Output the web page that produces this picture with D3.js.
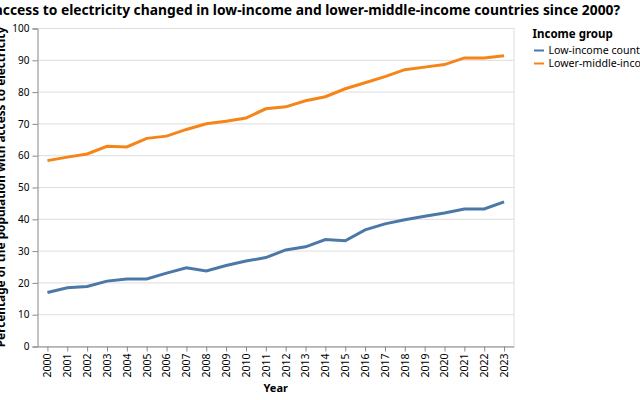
<!DOCTYPE html>
<html>
<head>
<meta charset="utf-8">
<script src="https://cdn.jsdelivr.net/npm/d3@7"></script>
<style>
  body { margin: 0; background: #fff; }
  svg { font-family: 'Noto Sans', sans-serif; }
</style>
</head>
<body>
<div id="chart"></div>
<script>
// data
var years = d3.range(2000, 2024);
var lowIncome = [16.8, 18.3, 18.7, 20.4, 21.1, 21.1, 22.9, 24.6, 23.6, 25.3, 26.7, 27.8,
                 30.2, 31.2, 33.5, 33.1, 36.5, 38.4, 39.7, 40.8, 41.8, 43.1, 43.1, 45.3];
var lowerMiddle = [58.3, 59.4, 60.4, 62.8, 62.6, 65.3, 66.0, 68.1, 69.9, 70.7, 71.7, 74.6,
                   75.2, 77.1, 78.4, 80.9, 82.8, 84.7, 86.9, 87.7, 88.5, 90.6, 90.6, 91.3];
var seriesNames = ['Low-income countries', 'Lower-middle-income countries'];
var seriesColors = ['#4c78a8', '#f58518'];
var yTicks = [0, 10, 20, 30, 40, 50, 60, 70, 80, 90, 100];

var W = 640, H = 400;
var plot = {x: 37.5, y: 28, width: 476.5, height: 318};
var font = "'Noto Sans', sans-serif";

var svg = d3.select('#chart').append('svg').attr('width', W).attr('height', H);

var x = d3.scalePoint().domain(years).range([plot.x, plot.x + plot.width]).padding(0.5);
var y = d3.scaleLinear().domain([0, 100]).range([plot.y + plot.height, plot.y]);

// grid
var g = svg.append('g');
g.selectAll('line.grid').data(yTicks).enter().append('line')
  .attr('x1', plot.x).attr('x2', plot.x + plot.width)
  .attr('y1', function (d) { return y(d) + 0.5; }).attr('y2', function (d) { return y(d) + 0.5; })
  .attr('stroke', '#ddd');
g.append('line')
  .attr('x1', plot.x + plot.width).attr('x2', plot.x + plot.width)
  .attr('y1', plot.y).attr('y2', plot.y + plot.height)
  .attr('stroke', '#ddd');

// y axis
var yAxis = svg.append('g').attr('transform', 'translate(' + plot.x + ',0.5)')
  .call(d3.axisLeft(y).tickValues(yTicks).tickSize(5).tickPadding(3));
yAxis.select('.domain').attr('stroke', '#888');
yAxis.selectAll('.tick line').attr('stroke', '#888');
yAxis.selectAll('.tick text').attr('font-size', 10).attr('fill', '#000').attr('font-family', font);

// x axis
var xAxis = svg.append('g').attr('transform', 'translate(0,' + (plot.y + plot.height + 0.5) + ')')
  .call(d3.axisBottom(x).tickSize(5).tickSizeOuter(0));
xAxis.select('.domain').attr('stroke', '#888');
xAxis.selectAll('.tick line').attr('stroke', '#888');
xAxis.selectAll('.tick text')
  .attr('font-size', 10.5).attr('fill', '#000').attr('font-family', font)
  .attr('transform', 'rotate(-90)')
  .attr('text-anchor', 'end')
  .attr('dy', '0.32em')
  .attr('x', -7).attr('y', 0);

// lines
var line = d3.line()
  .x(function (d, i) { return x(years[i]); })
  .y(function (d) { return y(d); });

[lowIncome, lowerMiddle].forEach(function (vals, i) {
  svg.append('path').datum(vals)
    .attr('d', line)
    .attr('fill', 'none')
    .attr('stroke', seriesColors[i])
    .attr('stroke-width', 3);
});

// titles
svg.append('text')
  .attr('x', 620).attr('y', 15)
  .attr('text-anchor', 'end')
  .attr('font-size', 13.8).attr('font-weight', 'bold')
  .text('How has access to electricity changed in low-income and lower-middle-income countries since 2000?');

svg.append('text')
  .attr('x', plot.x + plot.width / 2).attr('y', 391.5)
  .attr('text-anchor', 'middle')
  .attr('font-size', 11).attr('font-weight', 'bold')
  .text('Year');

svg.append('text')
  .attr('transform', 'translate(4.5,' + (plot.y + plot.height / 2) + ') rotate(-90)')
  .attr('text-anchor', 'middle')
  .attr('font-size', 11.8).attr('font-weight', 'bold')
  .text('Percentage of the population with access to electricity');

// legend
var legend = svg.append('g').attr('transform', 'translate(532.5,0)');
legend.append('text').attr('x', 0).attr('y', 38)
  .attr('font-size', 11.5).attr('font-weight', 'bold').text('Income group');
seriesNames.forEach(function (name, i) {
  var ly = 50.5 + i * 13;
  legend.append('line').attr('x1', 1.5).attr('x2', 11.5).attr('y1', ly).attr('y2', ly)
    .attr('stroke', seriesColors[i]).attr('stroke-width', 2);
  legend.append('text').attr('x', 16).attr('y', ly).attr('dy', '0.35em')
    .attr('font-size', 10.6).text(name);
});
</script>
</body>
</html>
